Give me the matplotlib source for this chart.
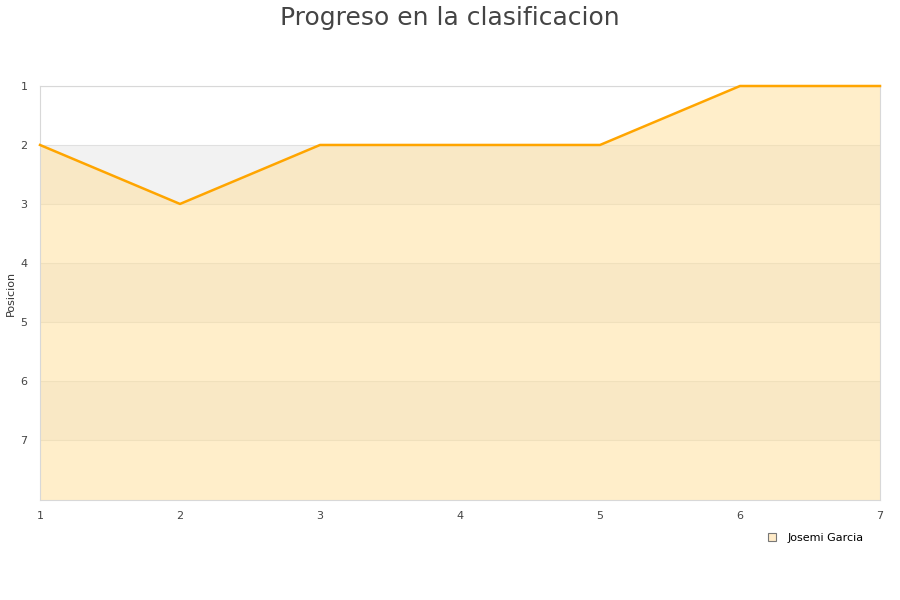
import matplotlib
matplotlib.use('Agg')
import matplotlib.pyplot as plt
from matplotlib.lines import Line2D

# data
jornadas = [1, 2, 3, 4, 5, 6, 7]
posicion = [2, 3, 2, 2, 2, 1, 1]
player = "Josemi Garcia"
y_ticks = [1, 2, 3, 4, 5, 6, 7]

fig = plt.figure(figsize=(9, 6), dpi=100)
ax = fig.add_axes([40 / 900, 100 / 600, 840 / 900, 414 / 600])

y_bottom = 8.02
# alternating background bands
for k in range(1, 8):
    if k % 2 == 0:
        ax.axhspan(k, k + 1, color='#f2f2f2', lw=0, zorder=0)
    ax.axhline(k, color='#e0e0e0', lw=0.8, zorder=0.5)

ax.fill_between(jornadas, posicion, y_bottom, color='#ffe0a0', alpha=0.55, lw=0, zorder=1)
ax.plot(jornadas, posicion, color='#ffa500', lw=1.8, zorder=3, clip_on=False)

ax.set_xlim(1, 7)
ax.set_ylim(y_bottom, 1)
ax.set_xticks(jornadas)
ax.set_yticks(y_ticks)
ax.tick_params(length=0, labelsize=8, colors='#444444')
ax.tick_params(axis='x', pad=8)
ax.tick_params(axis='y', pad=9)
for s in ax.spines.values():
    s.set_color('#d8d8d8')
fig.text(11 / 900, 1 - 293 / 600, 'Posicion', rotation=90, ha='center', va='center',
         fontsize=8, color='#333333')

fig.suptitle('Progreso en la clasificacion', fontsize=18, color='#444444', y=0.99)

handle = Line2D([], [], marker='s', linestyle='none', markersize=6,
                markerfacecolor='#ffebc8', markeredgecolor='#777777', markeredgewidth=0.8)
fig.legend([handle], [player], loc='center', bbox_to_anchor=(812 / 900, 1 - 538 / 600),
           frameon=False, fontsize=8, handletextpad=0.4)

fig.savefig('out.png', dpi=100)
